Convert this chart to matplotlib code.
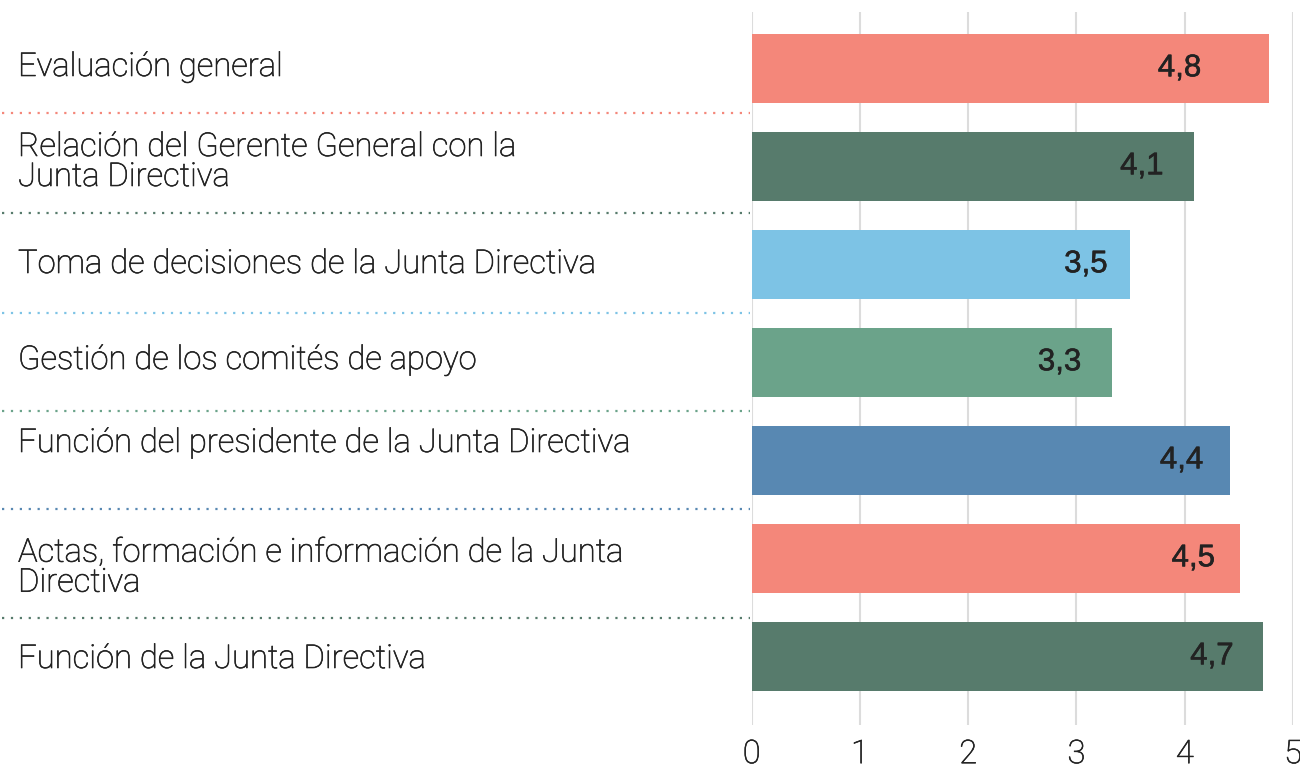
import matplotlib
matplotlib.use("Agg")
import matplotlib.pyplot as plt
from matplotlib.transforms import blended_transform_factory
import matplotlib.patheffects as pe

# ---- data ----
categories = [
    "Evaluación general",
    "Relación del Gerente General con la\nJunta Directiva",
    "Toma de decisiones de la Junta Directiva",
    "Gestión de los comités de apoyo",
    "Función del presidente de la Junta Directiva",
    "Actas, formación e información de la Junta\nDirectiva",
    "Función de la Junta Directiva",
]
values = [4.78, 4.09, 3.49, 3.33, 4.42, 4.51, 4.72]
value_labels = ["4,8", "4,1", "3,5", "3,3", "4,4", "4,5", "4,7"]
xticks = [0, 1, 2, 3, 4, 5]

# ---- style ----
CORAL = "#f4877a"
DGREEN = "#577b6c"
LBLUE = "#7dc3e5"
GREEN = "#6ba38a"
BLUE = "#5888b2"
bar_colors = [CORAL, DGREEN, LBLUE, GREEN, BLUE, CORAL, DGREEN]
sep_colors = [CORAL, DGREEN, LBLUE, GREEN, BLUE, DGREEN]
# separator positions (pixels from the row-0 centre, pitch 98 px)
sep_px = [45, 145, 245, 343, 441, 550]
# label baseline offsets (px, relative to row centre) for first line
label_base_px = [7.7, -10.3, 8.7, 6.7, -8.3, 3.4, 11.7]
line_step_px = 30
# value label right-edge gap from bar end (px)
val_gap_px = [68, 31, 22, 31, 27, 25, 29]

W, H, DPI = 1300, 764, 100
PITCH = 98.0
TEXT = "#222222"
thick = [pe.withStroke(linewidth=0.45, foreground=TEXT)]

fig = plt.figure(figsize=(W / DPI, H / DPI), dpi=DPI)
ax_left, ax_right = 751.7 / W, 1293 / W
ax_top, ax_bot = 12 / H, 725 / H
ax = fig.add_axes([ax_left, 1 - ax_bot, ax_right - ax_left, ax_bot - ax_top])

ypos = list(range(len(categories)))
ax.barh(ypos, values, height=0.70, color=bar_colors, zorder=3)

ax_h_px = 725 - 12
top = -(68.3 - 12) / PITCH
ax.set_ylim(top + ax_h_px / PITCH, top)
ax.set_xlim(0, 5)

ax.set_xticks(xticks)
ax.set_xticklabels([str(t) for t in xticks], family="Roboto", fontweight="light",
                   fontsize=23.5, color=TEXT)
for t in ax.get_xticklabels():
    t.set_path_effects(thick)
ax.tick_params(axis="x", length=0, pad=9.5)
ax.set_yticks([])
ax.grid(axis="x", color="#dcdcdc", linewidth=1.5, zorder=0)
ax.grid(axis="y", visible=False)
for s in ax.spines.values():
    s.set_visible(False)

# value labels
for i, (v, lab) in enumerate(zip(values, value_labels)):
    ax.annotate(lab, xy=(v, i), xytext=(-val_gap_px[i] * 72 / DPI, 0),
                textcoords="offset points", ha="right", va="center",
                family="Liberation Sans", fontsize=22.5, color=TEXT,
                zorder=4,
                path_effects=[pe.withStroke(linewidth=0.4, foreground=TEXT)])

# category labels
trans = blended_transform_factory(fig.transFigure, ax.transData)
for i, cat in enumerate(categories):
    for j, line in enumerate(cat.split("\n")):
        y = i + (label_base_px[i] + j * line_step_px) / PITCH
        ax.text(18 / W, y, line, transform=trans, ha="left", va="baseline",
                family="Roboto", fontweight="light", fontsize=23.6,
                color=TEXT, clip_on=False, path_effects=thick)

# dotted separators
for k, (p, c) in enumerate(zip(sep_px, sep_colors)):
    y = p / PITCH
    ax.plot([2 / W, 750 / W], [y, y], transform=trans, color=c,
            linewidth=1.6, linestyle=(0, (1, 3.0)), clip_on=False, zorder=2)

fig.savefig("out.png", dpi=DPI)
